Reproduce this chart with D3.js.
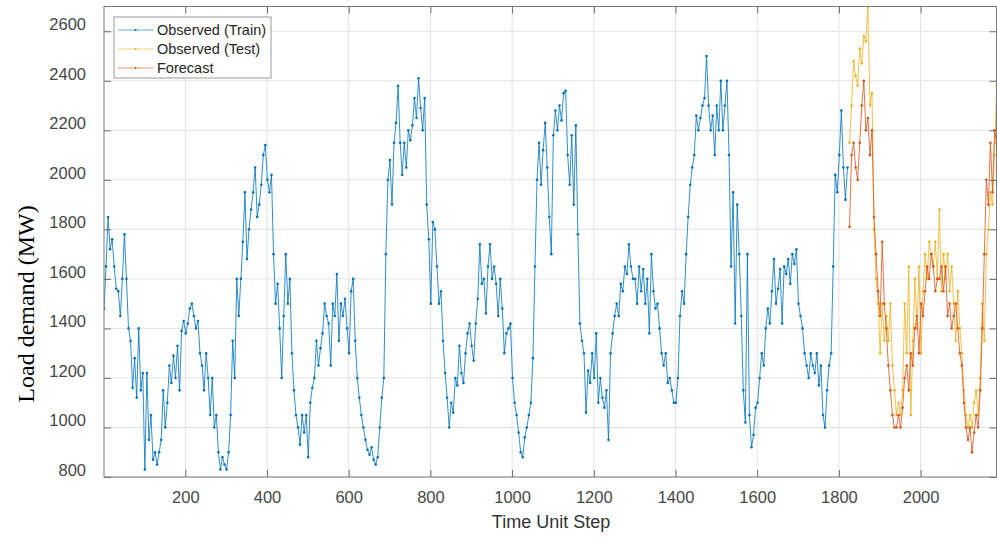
<!DOCTYPE html>
<html lang="en">
<head>
<meta charset="UTF-8" />
<title>Load demand</title>
<script src="https://d3js.org/d3.v7.min.js"></script>
<style>
  body { margin: 0; background: #fff; font-family: "Liberation Sans", Arial, sans-serif; }
  .tick text { fill: #474747; font-size: 16.5px; font-family: "Liberation Sans", Arial, sans-serif; }
  .tick line { stroke: #6b6b6b; }
</style>
</head>
<body>
<svg width="997" height="538"></svg>
<script>
// time step of the first value and spacing between values (read every 5 steps)
const stepSize = 5;
const trainStart = 1;
const testStart = 1826;

const train = [
  1480, 1650, 1850, 1720, 1760, 1650, 1560, 1550, 1450, 1600, 1780, 1600, 1400, 1350, 1160, 1280, 1120, 1400, 1150, 1220,
  830, 1220, 950, 1050, 870, 900, 850, 900, 950, 1150, 1000, 1100, 1250, 1180, 1290, 1200, 1330, 1150, 1390, 1430,
  1380, 1420, 1480, 1500, 1450, 1400, 1430, 1300, 1250, 1150, 1300, 1200, 1050, 1200, 1000, 1050, 900, 830, 880, 850,
  830, 900, 1050, 1350, 1200, 1600, 1450, 1600, 1750, 1950, 1680, 1800, 1880, 1950, 2050, 1850, 1900, 1980, 2100, 2140,
  2000, 1950, 2020, 1700, 1500, 1580, 1400, 1200, 1450, 1700, 1500, 1600, 1300, 1150, 1050, 1000, 930, 1050, 980, 1050,
  880, 1100, 1160, 1200, 1350, 1250, 1320, 1380, 1500, 1450, 1420, 1250, 1500, 1450, 1620, 1350, 1500, 1450, 1520, 1400,
  1300, 1550, 1600, 1350, 1200, 1120, 1050, 1000, 950, 910, 890, 920, 870, 850, 880, 1000, 1120, 1200, 1700, 2000,
  2080, 1900, 2150, 2230, 2380, 2150, 2020, 2150, 2050, 2200, 2160, 2220, 2330, 2250, 2410, 2290, 2200, 2330, 1900, 1760,
  1500, 1830, 1800, 1650, 1500, 1550, 1350, 1220, 1120, 1000, 1100, 1060, 1200, 1170, 1330, 1220, 1180, 1300, 1380, 1420,
  1330, 1270, 1420, 1520, 1740, 1580, 1600, 1460, 1650, 1740, 1600, 1650, 1580, 1450, 1600, 1480, 1300, 1380, 1400, 1420,
  1200, 1100, 1050, 980, 900, 880, 960, 1000, 1050, 1100, 1280, 1650, 2000, 2150, 1980, 2120, 2230, 2050, 1850, 1700,
  2180, 2280, 2200, 2300, 2240, 2350, 2360, 2100, 1980, 2180, 1900, 2220, 1780, 1420, 1350, 1300, 1060, 1230, 1180, 1300,
  1200, 1380, 1100, 1200, 1120, 1080, 1150, 950, 1300, 1380, 1450, 1500, 1450, 1580, 1550, 1650, 1620, 1740, 1650, 1600,
  1600, 1500, 1650, 1550, 1640, 1500, 1600, 1380, 1700, 1550, 1480, 1500, 1400, 1300, 1250, 1300, 1180, 1200, 1150, 1100,
  1100, 1200, 1450, 1550, 1500, 1700, 1850, 1980, 2050, 2100, 2260, 2200, 2250, 2300, 2330, 2500, 2300, 2200, 2260, 2100,
  2300, 2200, 2400, 2200, 2300, 2400, 2100, 1650, 1950, 1420, 1900, 1700, 1450, 1150, 1020, 1700, 1050, 920, 970, 1080,
  1100, 1200, 1300, 1250, 1400, 1480, 1420, 1550, 1680, 1500, 1560, 1640, 1420, 1650, 1620, 1680, 1580, 1700, 1660, 1720,
  1500, 1450, 1400, 1300, 1250, 1200, 1300, 1250, 1220, 1300, 1170, 1250, 1050, 1000, 1150, 1250, 1300, 1650, 2020, 1950,
  2100, 2280, 2050, 1920, 2050
];

const test = [
  2150, 2300, 2480, 2420, 2380, 2530, 2470, 2580, 2560, 2700, 2300, 2350, 1800, 1600, 1500, 1300, 1500, 1350, 1450, 1350,
  1500, 1250, 1150, 1050, 1100, 1050, 1150, 1500, 1300, 1650, 1050, 1350, 1600, 1400, 1650, 1300, 1550, 1700, 1600, 1750,
  1700, 1650, 1750, 1600, 1880, 1550, 1700, 1600, 1700, 1550, 1650, 1500, 1350, 1550, 1400, 1300, 1150, 1050, 1000, 1050,
  1000, 1100, 1150, 1050, 1200, 1500, 1350, 1700, 1800, 1950, 1900, 2100, 2380
];

const forecast = [
  1810, 2100, 2150, 2050, 2000, 2150, 2300, 2400, 2200, 2250, 2100, 2200, 1850, 1700, 1550, 1450, 1750, 1500, 1400, 1250,
  1150, 1050, 1000, 1000, 1050, 1000, 1080, 1200, 1250, 1150, 1300, 1250, 1400, 1450, 1300, 1500, 1450, 1550, 1650, 1600,
  1700, 1650, 1550, 1600, 1600, 1650, 1550, 1650, 1450, 1500, 1400, 1450, 1500, 1400, 1300, 1250, 1100, 1000, 950, 1000,
  900, 980, 1050, 1000, 1150, 1400, 1700, 2000, 1900, 2150, 1950, 2200, 2150
];

const xTicks = [200, 400, 600, 800, 1000, 1200, 1400, 1600, 1800, 2000];
const yTicks = [800, 1000, 1200, 1400, 1600, 1800, 2000, 2200, 2400, 2600];
const seriesNames = ["Observed (Train)", "Observed (Test)", "Forecast"];
const colors = ["#0072BD", "#EDB120", "#D95319"];

const plotLeft = 104, plotRight = 997, plotTop = 6.5, plotBottom = 477;

const svg = d3.select("svg");
const x = d3.scaleLinear().domain([1, 2187]).range([plotLeft, plotRight]);
const y = d3.scaleLinear().domain([800, 2700]).range([plotBottom, plotTop]);

// grid
const grid = svg.append("g").attr("stroke", "#e3e3e3").attr("stroke-width", 1);
grid.selectAll(".gx").data(xTicks).join("line")
  .attr("x1", d => x(d)).attr("x2", d => x(d)).attr("y1", plotTop).attr("y2", plotBottom);
grid.selectAll(".gy").data(yTicks).join("line")
  .attr("y1", d => y(d)).attr("y2", d => y(d)).attr("x1", plotLeft).attr("x2", plotRight);

// data
svg.append("clipPath").attr("id", "plot")
  .append("rect").attr("x", plotLeft).attr("y", plotTop)
  .attr("width", plotRight - plotLeft).attr("height", plotBottom - plotTop);

const series = [
  { values: train, start: trainStart, color: colors[0] },
  { values: test, start: testStart, color: colors[1] },
  { values: forecast, start: testStart, color: colors[2] }
];

const plot = svg.append("g").attr("clip-path", "url(#plot)");
series.forEach(s => {
  const pts = s.values.map((v, i) => [s.start + i * stepSize, v]);
  const line = d3.line().x(d => x(d[0])).y(d => y(d[1]));
  plot.append("path").datum(pts)
    .attr("d", line)
    .attr("fill", "none")
    .attr("stroke", s.color)
    .attr("stroke-width", 1)
    .attr("stroke-opacity", 0.8);
  plot.append("g").selectAll("circle").data(pts).join("circle")
    .attr("cx", d => x(d[0])).attr("cy", d => y(d[1]))
    .attr("r", 1.3)
    .attr("fill", s.color);
});

// axes (ticks pointing inward, box style)
const fmt = d3.format("d");
const gx = svg.append("g").attr("transform", `translate(0,${plotBottom})`)
  .call(d3.axisBottom(x).tickValues(xTicks).tickFormat(fmt).tickSizeInner(-7).tickSizeOuter(0).tickPadding(14));
gx.select(".domain").remove();

const gy = svg.append("g").attr("transform", `translate(${plotLeft},0)`)
  .call(d3.axisLeft(y).tickValues(yTicks).tickFormat(fmt).tickSizeInner(-7).tickSizeOuter(0).tickPadding(18));
gy.select(".domain").remove();
gy.selectAll("text").attr("y", -7);

const gt = svg.append("g").attr("transform", `translate(0,${plotTop})`)
  .call(d3.axisTop(x).tickValues(xTicks).tickSizeInner(-7).tickSizeOuter(0).tickFormat(""));
gt.select(".domain").remove();

const gr = svg.append("g").attr("transform", `translate(${plotRight - 0.5},0)`)
  .call(d3.axisRight(y).tickValues(yTicks).tickSizeInner(-7).tickSizeOuter(0).tickFormat(""));
gr.select(".domain").remove();

svg.append("rect")
  .attr("x", plotLeft).attr("y", plotTop)
  .attr("width", plotRight - plotLeft - 0.5).attr("height", plotBottom - plotTop)
  .attr("fill", "none").attr("stroke", "#7a7a7a").attr("stroke-width", 1);

// labels
svg.append("text")
  .attr("x", 551).attr("y", 528)
  .attr("text-anchor", "middle")
  .attr("font-size", "18px")
  .attr("fill", "#333")
  .text("Time Unit Step");

svg.append("text")
  .attr("transform", "translate(26,304) rotate(-90)")
  .attr("text-anchor", "middle")
  .attr("dominant-baseline", "central")
  .attr("font-family", "'Liberation Serif', 'Times New Roman', serif")
  .attr("font-size", "24px")
  .attr("fill", "#000")
  .text("Load demand (MW)");

// legend
const legend = svg.append("g");
legend.append("rect")
  .attr("x", 114).attr("y", 17).attr("width", 157).attr("height", 61)
  .attr("fill", "#fff").attr("stroke", "#9a9a9a").attr("stroke-width", 1);
seriesNames.forEach((name, i) => {
  const ly = 30 + i * 19;
  legend.append("line")
    .attr("x1", 118).attr("x2", 153).attr("y1", ly).attr("y2", ly)
    .attr("stroke", colors[i]).attr("stroke-width", 0.8).attr("stroke-opacity", 0.75);
  legend.append("circle").attr("cx", 135.5).attr("cy", ly).attr("r", 1.1).attr("fill", colors[i]);
  legend.append("text")
    .attr("x", 157).attr("y", ly)
    .attr("dominant-baseline", "central")
    .attr("font-size", "14.5px")
    .attr("fill", "#262626")
    .text(name);
});
</script>
</body>
</html>
